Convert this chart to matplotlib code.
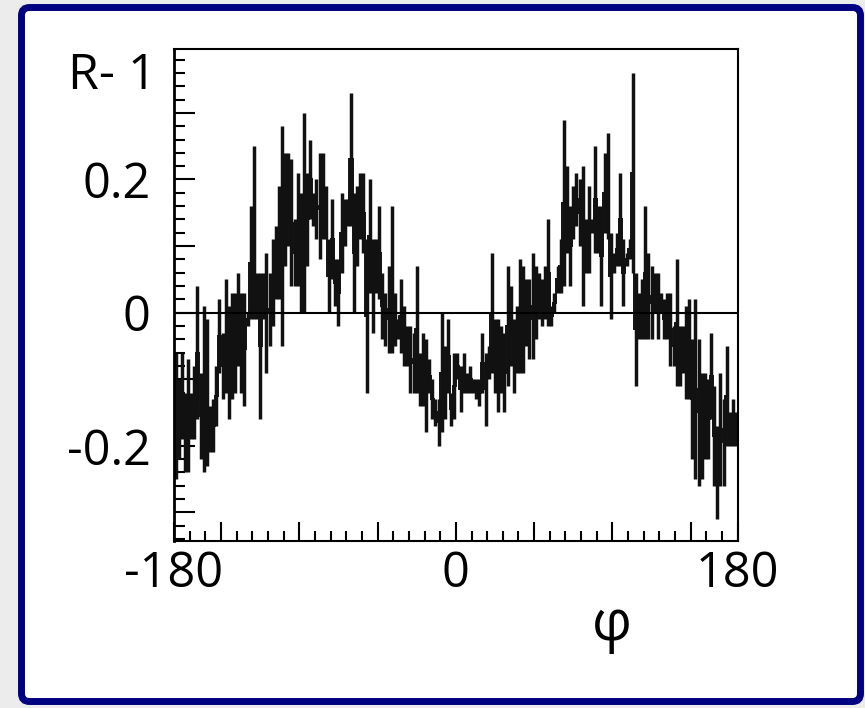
import numpy as np
import matplotlib
matplotlib.use("Agg")
import matplotlib.pyplot as plt
from matplotlib.patches import FancyBboxPatch
from matplotlib.ticker import MultipleLocator

plt.rcParams['font.family'] = ['Open Sans', 'DejaVu Sans']

# 180 bins of 2 degrees, upper / lower end of each error bar (R - 1)
phi_edges = np.linspace(-180, 180, 181)
upper = [
    -0.06, -0.10, -0.06, -0.12, -0.07, -0.12, -0.08, 0.04, -0.09, 0.01,
    -0.01, -0.14, -0.13, -0.08, 0.02, -0.03, 0.05, 0.01, 0.03, 0.03,
    0.06, 0.03, 0.03, 0.00, 0.16, 0.25, 0.06, 0.06, 0.06, 0.09,
    0.06, 0.11, 0.13, 0.19, 0.28, 0.24, 0.24, 0.23, 0.14, 0.21,
    0.18, 0.30, 0.21, 0.26, 0.18, 0.20, 0.24, 0.24, 0.19, 0.11,
    0.17, 0.08, 0.08, 0.18, 0.17, 0.17, 0.33, 0.18, 0.19, 0.21,
    0.21, 0.11, 0.20, 0.11, 0.11, 0.16, 0.06, 0.03, 0.07, 0.16,
    0.03, -0.01, 0.05, 0.01, -0.02, -0.02, -0.03, 0.07, -0.06, -0.03,
    -0.04, -0.07, -0.10, -0.13, -0.13, 0.00, -0.05, -0.01, -0.12, -0.06,
    -0.06, -0.08, -0.06, -0.09, -0.08, -0.10, -0.10, -0.10, -0.03, -0.06,
    -0.05, 0.09, -0.01, -0.01, -0.02, -0.03, 0.07, 0.04, -0.01, 0.01,
    0.08, 0.07, 0.05, 0.05, 0.09, 0.07, 0.06, 0.05, 0.07, 0.14,
    0.01, 0.03, 0.07, 0.11, 0.29, 0.22, 0.16, 0.19, 0.21, 0.20,
    0.22, 0.14, 0.19, 0.14, 0.25, 0.16, 0.16, 0.24, 0.27, 0.12,
    0.09, 0.12, 0.21, 0.11, 0.09, 0.11, 0.36, 0.06, 0.03, 0.05,
    0.16, 0.09, 0.07, 0.06, 0.06, 0.03, 0.02, 0.03, 0.03, -0.02,
    0.08, -0.02, -0.02, 0.01, 0.02, -0.04, 0.02, -0.04, -0.09, -0.09,
    -0.10, -0.03, -0.11, -0.17, -0.09, -0.13, -0.05, -0.15, -0.13, -0.15,
]
lower = [
    -0.25, -0.22, -0.19, -0.24, -0.24, -0.19, -0.19, -0.16, -0.22, -0.24,
    -0.23, -0.21, -0.21, -0.17, -0.09, -0.13, -0.12, -0.16, -0.13, -0.12,
    -0.08, -0.12, -0.14, -0.02, -0.01, -0.01, -0.01, -0.16, -0.01, -0.09,
    -0.05, -0.02, 0.02, 0.02, -0.05, 0.07, 0.10, 0.04, 0.04, 0.04,
    0.00, 0.00, 0.07, 0.14, 0.13, 0.11, 0.08, 0.11, 0.11, 0.00,
    0.05, 0.01, -0.02, 0.06, 0.10, 0.13, 0.13, 0.00, 0.07, 0.11,
    0.09, -0.12, 0.03, -0.03, 0.03, 0.02, -0.04, -0.05, -0.06, -0.06,
    -0.05, -0.04, -0.06, -0.08, -0.08, -0.12, -0.12, -0.12, -0.14, -0.14,
    -0.18, -0.12, -0.16, -0.17, -0.20, -0.18, -0.16, -0.12, -0.17, -0.16,
    -0.10, -0.15, -0.12, -0.12, -0.12, -0.12, -0.13, -0.14, -0.12, -0.17,
    -0.10, -0.09, -0.12, -0.15, -0.12, -0.15, -0.11, -0.08, -0.12, -0.09,
    -0.09, -0.09, -0.05, -0.07, -0.07, -0.04, -0.01, -0.02, -0.01, -0.02,
    -0.02, 0.00, 0.03, 0.03, 0.04, 0.09, 0.04, 0.11, 0.13, 0.10,
    0.01, 0.06, 0.06, 0.12, 0.09, 0.09, 0.01, 0.12, 0.11, -0.01,
    0.06, 0.07, 0.07, 0.01, 0.07, 0.08, 0.06, -0.11, -0.04, -0.04,
    -0.04, -0.04, -0.04, 0.00, -0.04, 0.00, -0.04, -0.04, -0.08, -0.08,
    -0.11, -0.11, -0.09, -0.13, -0.13, -0.22, -0.25, -0.26, -0.25, -0.22,
    -0.22, -0.16, -0.26, -0.31, -0.26, -0.26, -0.20, -0.20, -0.20, -0.20,
]
x_ticklabels = ['-180', '0', '180']
y_ticklabels = ['-0.2', '0', '0.2']

upper = np.array(upper)
lower = np.array(lower)
centers = 0.5 * (phi_edges[:-1] + phi_edges[1:])
mid = 0.5 * (upper + lower)

fig = plt.figure(figsize=(8.65, 7.08), dpi=100, facecolor='#ececec')

# navy rounded frame around the slide panel (behind the axes)
frame = FancyBboxPatch((21.5, 6.5), 839, 694, boxstyle="round,pad=0,rounding_size=8",
                       transform=None, facecolor='white', edgecolor='#000080', lw=5,
                       zorder=-10)
fig.patches.append(frame)

ax = fig.add_axes([174 / 865, 1 - 541 / 708, (737.7 - 174) / 865, (541 - 49.3) / 708])
ax.set_zorder(5)
ax.set_facecolor('white')

ax.vlines(centers, lower, upper, color='#111111', lw=2.5)
ax.stairs(mid, phi_edges, color='#111111', lw=1.4, baseline=None)
ax.axhline(0, color='black', lw=1.5)

ax.set_xlim(-180, 180)
ax.set_ylim(-0.343, 0.3955)

ax.set_xticks([-180, -150, -100, -50, 0, 50, 100, 150, 180])
ax.set_xticklabels([x_ticklabels[0], '', '', '', x_ticklabels[1], '', '', '', x_ticklabels[2]])
ax.xaxis.set_minor_locator(MultipleLocator(10))
ax.set_yticks([-0.3, -0.2, -0.1, 0, 0.1, 0.2, 0.3])
ax.set_yticklabels(['', y_ticklabels[0], '', y_ticklabels[1], '', y_ticklabels[2], ''])
ax.yaxis.set_minor_locator(MultipleLocator(0.02))

ax.tick_params(axis='both', which='both', direction='in', width=1.5, colors='black',
               top=False, right=False, labelsize=35)
ax.tick_params(axis='y', which='major', length=15, pad=17)
ax.tick_params(axis='y', which='minor', length=8)
ax.tick_params(axis='x', which='major', length=14, pad=6)
ax.tick_params(axis='x', which='minor', length=7)

for s in ax.spines.values():
    s.set_linewidth(1.5)
ax.spines['left'].set_linewidth(2)

fig.text(157 / 865, 1 - 76 / 708, 'R- 1', ha='right', va='center', fontsize=36, zorder=6)
fig.text(612 / 865, 1 - 625 / 708, 'φ', ha='center', va='center', fontsize=40, zorder=6)

fig.savefig('out.png', dpi=100, facecolor=fig.get_facecolor())
